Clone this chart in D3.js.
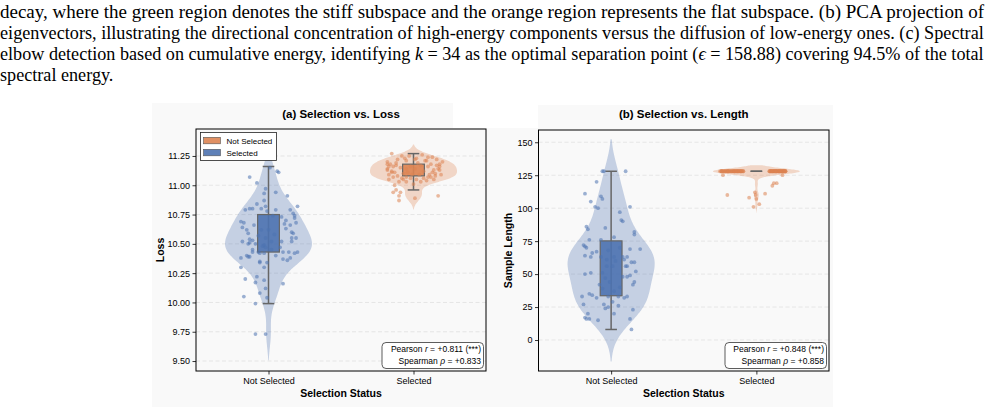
<!DOCTYPE html>
<html>
<head>
<meta charset="utf-8">
<script src="https://cdn.jsdelivr.net/npm/d3@7"></script>
<style>
  body { margin: 0; background: #fff; }
  svg { display: block; }
</style>
</head>
<body>
<svg width="986" height="417"></svg>
<script>
// ---- data ----
var categories = ["Not Selected", "Selected"];

// [x jitter, value]
var lossNotSelected = [
  [-0.13,11.07],[-0.08,11.02],[0.06,11.12],[0.07,11.11],[-0.02,10.97],[-0.03,10.93],[0.05,10.94],
  [-0.03,10.87],[-0.08,10.84],[-0.02,10.82],[0.13,10.91],[-0.05,10.80],[-0.13,10.80],[-0.11,10.80],
  [-0.16,10.79],[0.05,10.79],[-0.01,10.78],[0.15,10.79],[0.09,10.73],[0.03,10.74],[0.17,10.76],
  [0.20,10.82],[0.18,10.74],[0.18,10.72],[-0.19,10.69],[-0.17,10.68],[-0.18,10.64],[-0.15,10.62],
  [0.11,10.67],[0.15,10.66],[0.19,10.68],[0.12,10.63],[0.16,10.60],[-0.14,10.59],[0.00,10.62],
  [0.17,10.59],[0.19,10.55],[0.16,10.55],[0.16,10.52],[-0.13,10.54],[-0.11,10.53],[-0.18,10.52],
  [-0.14,10.50],[-0.13,10.51],[-0.02,10.55],[0.02,10.52],[0.09,10.52],[-0.03,10.49],[-0.03,10.42],
  [-0.07,10.43],[-0.09,10.50],[-0.11,10.45],[-0.11,10.43],[-0.13,10.39],[-0.15,10.40],[-0.14,10.39],
  [0.05,10.40],[0.10,10.43],[0.14,10.43],[0.20,10.43],[0.10,10.37],[0.15,10.38],[0.18,10.42],
  [-0.19,10.38],[-0.19,10.30],[-0.06,10.42],[-0.04,10.48],[-0.02,10.47],[-0.01,10.34],[-0.06,10.35],
  [-0.06,10.34],[-0.03,10.30],[-0.16,10.20],[-0.08,10.22],[-0.09,10.17],[-0.03,10.19],[0.10,10.16],
  [-0.06,10.08],[-0.02,10.12],[-0.17,10.05],[-0.01,10.04],[-0.09,9.99],[-0.09,9.73],[-0.02,9.73],
  [0.01,11.15],[0.04,10.58],[-0.05,10.62],[0.08,10.47],[0.12,10.70],[-0.10,10.66],[0.02,10.45],
  [-0.07,10.57],[0.13,10.36]
];
var lossSelected = [
  [-0.15,11.27],[-0.11,11.22],[-0.08,11.25],[-0.06,11.23],[-0.05,11.21],[-0.03,11.25],[0.02,11.23],
  [0.06,11.26],[0.10,11.24],[0.13,11.24],[0.16,11.22],[-0.18,11.20],[-0.18,11.18],[-0.16,11.18],
  [-0.17,11.16],[-0.14,11.16],[-0.12,11.17],[-0.18,11.13],[-0.15,11.12],[-0.13,11.11],[-0.17,11.09],
  [-0.14,11.07],[-0.17,11.05],[-0.11,11.08],[-0.08,11.06],[-0.10,11.03],[-0.07,11.05],[-0.05,11.03],
  [0.00,11.01],[0.02,11.05],[0.04,11.09],[0.07,11.06],[0.09,11.04],[0.11,11.09],[0.13,11.11],
  [0.14,11.13],[0.15,11.08],[0.17,11.14],[0.18,11.16],[0.16,11.17],[0.19,11.09],[0.18,11.18],
  [0.20,11.20],[0.08,11.21],[0.10,11.16],[0.12,11.07],[0.14,11.05],[0.05,11.03],[-0.05,11.07],
  [-0.13,11.00],[-0.12,10.96],[-0.14,10.94],[-0.10,10.91],[-0.09,10.94],[-0.10,10.87],[0.01,10.89],
  [0.17,10.91],[-0.04,11.11],[-0.02,11.16],[0.01,11.14],[0.05,11.17],[-0.01,11.09],
  [-0.05,11.14],[0.03,11.19],[-0.09,11.15],[0.07,11.12],[0.12,11.18],[-0.15,11.11],[0.15,11.10],
  [-0.02,11.06],[0.09,11.21],[-0.12,11.19],[0.18,11.13],[-0.18,11.14],[0.01,11.22],[-0.07,11.10],
  [0.10,11.07]
];
var lengthNotSelected = [
  [-0.06,128],[-0.05,128],[0.10,128],[-0.18,111],[-0.14,105],[-0.10,120],[-0.07,109],[-0.06,107],
  [-0.11,101],[-0.09,100],[0.06,97],[0.07,91],[0.08,90],[0.13,101],[-0.17,86],[-0.16,84],[-0.04,85],
  [0.16,82],[0.16,80],[0.02,78],[-0.15,76],[-0.07,76],[-0.19,72],[-0.18,71],[-0.17,70],[0.13,69],
  [0.20,69],[-0.13,66],[-0.10,67],[-0.02,68],[0.06,70],[-0.18,64],[-0.14,63],[-0.07,63],[0.02,63],
  [0.08,63],[0.11,63],[-0.03,61],[0.03,60],[0.09,61],[0.14,59],[0.16,59],[0.11,56],[0.10,56],
  [0.01,56],[-0.18,50],[-0.14,51],[-0.06,51],[0.17,52],[0.13,49],[0.11,48],[-0.04,47],[0.08,48],
  [-0.01,44],[0.16,44],[0.15,42],[-0.08,42],[-0.15,35],[-0.13,34],[-0.10,32],[-0.02,33],[0.05,33],
  [0.09,32],[0.11,33],[-0.20,33],[-0.19,27],[-0.05,27],[-0.04,24],[-0.02,25],[0.05,26],[0.15,23],
  [0.02,20],[-0.16,20],[-0.18,17],[-0.17,16],[-0.15,16],[-0.09,15],[0.13,16],[0.14,8],[0.01,29],
  [0.02,37],[0.06,40],[-0.06,39],[-0.03,56]
];
var lengthSelected = [
  [-0.23,125],[0.18,125],[0.12,119],[0.14,119],[0.11,117],[-0.20,110],[-0.05,108],[-0.01,112],
  [-0.005,110],[0.00,107],[0.06,111],[0.02,103],[-0.02,101]
];
// jitter of the selected samples sitting at the 128-token cap
var capJitter = [
  -0.25,-0.24,-0.24,-0.23,-0.22,-0.22,-0.21,-0.20,-0.20,-0.19,-0.19,-0.18,-0.17,-0.17,-0.16,
  -0.16,-0.15,-0.15,-0.14,-0.14,-0.13,-0.13,-0.12,-0.12,-0.11,-0.11,-0.10,-0.10,-0.09,-0.09,
  -0.23,-0.21,-0.18,-0.16,-0.13,-0.11,-0.20,-0.15,-0.12,-0.24,-0.19,-0.14,-0.10,
  0.09,0.09,0.10,0.10,0.11,0.11,0.12,0.12,0.13,0.13,0.14,0.14,0.15,0.15,0.16,0.16,0.17,0.17,
  0.18,0.18,0.19,0.19,0.20,0.20,0.10,0.12,0.14,0.16,0.18,0.20,0.11,0.13,0.15,0.17,0.19,
  0.095,0.125,0.155,0.185,0.105,0.135,0.165,0.195
];
var capLength = 128;

// box stats [lower whisker, q1, q3, upper whisker]
var lossBoxes = [[9.99, 10.43, 10.75, 11.16], [10.96, 11.08, 11.18, 11.27]];
var lengthBoxes = [[8, 33.6, 75.2, 128], [128, 128, 128, 128]];

var lossTicks = [9.50, 9.75, 10.00, 10.25, 10.50, 10.75, 11.00, 11.25];
var lengthTicks = [0, 25, 50, 75, 100, 125, 150];

var pearsonR = [0.811, 0.848];
var spearmanRho = [0.833, 0.858];
var legendLabels = ["Not Selected", "Selected"];

var captionLines = [
  "decay, where the green region denotes the stiff subspace and the orange region represents the flat subspace. (b) PCA projection of",
  "eigenvectors, illustrating the directional concentration of high-energy components versus the diffusion of low-energy ones. (c) Spectral",
  ["elbow detection based on cumulative energy, identifying ", "k", " = 34 as the optimal separation point (", "\u03f5", " = 158.88) covering 94.5% of the total"],
  "spectral energy."
];

// ---- drawing ----
var svg = d3.select("svg");
var blue = "#4c72b0", orange = "#dd8452";
var sans = "'Liberation Sans', Arial, sans-serif";

// caption text: each full line squeezed horizontally to the text width,
// the last line keeps the first line's squeeze
var squeeze = 1;
captionLines.forEach(function(line, i) {
  var g = svg.append("g");
  var t = g.append("text")
    .attr("x", 0)
    .attr("y", 0)
    .style("font-family", "'Liberation Serif', 'Times New Roman', serif")
    .style("font-size", "19px")
    .attr("fill", "#000");
  if (typeof line == "string") {
    t.text(line);
  } else {
    line.forEach(function(s, j) {
      t.append("tspan").text(s).style("font-style", j % 2 ? "italic" : "normal");
    });
  }
  var len = t.node().getComputedTextLength();
  if (i < captionLines.length - 1) squeeze = 984 / len;
  g.attr("transform", "translate(0," + (18 + i * 21) + ") scale(" + squeeze + ",1)");
});

// figure background
svg.append("path")
  .attr("d", "M152,103H453V128H538V105H833V407H152Z")
  .attr("fill", "#f9f9f9");

function kde(values, bw, grid) {
  return grid.map(function(v) {
    return [v, d3.mean(values, function(d) {
      var u = (v - d) / bw;
      return Math.exp(-0.5 * u * u);
    }) / bw];
  });
}

function drawPanel(p) {
  var g = svg.append("g");
  var x = d3.scaleLinear().domain([-0.5, 1.5]).range([p.left, p.right]);
  var y = d3.scaleLinear().domain(p.yDomain).range([p.bottom, p.top]);

  g.append("rect")
    .attr("x", p.left).attr("y", p.top)
    .attr("width", p.right - p.left).attr("height", p.bottom - p.top)
    .attr("fill", "#f9f9f9");

  g.selectAll(".grid").data(p.ticks).join("line")
    .attr("x1", p.left).attr("x2", p.right)
    .attr("y1", d => y(d)).attr("y2", d => y(d))
    .attr("stroke", "#d8d8d8").attr("stroke-width", 0.6)
    .attr("stroke-dasharray", "4,2.5");

  p.groups.forEach(function(grp, i) {
    var vals = grp.points.map(d => d[1]);
    var bw = d3.deviation(vals) * Math.pow(vals.length, -0.2);
    var lo = d3.min(vals) - 2 * bw, hi = d3.max(vals) + 2 * bw;
    var grid = d3.range(0, 121).map(k => lo + (hi - lo) * k / 120);
    var dens = kde(vals, bw, grid);
    var maxD = d3.max(dens, d => d[1]);
    var area = d3.area()
      .y(d => y(d[0]))
      .x0(d => x(i - 0.3 * d[1] / maxD))
      .x1(d => x(i + 0.3 * d[1] / maxD))
      .curve(d3.curveBasis);
    g.append("path").datum(dens)
      .attr("d", area)
      .attr("fill", grp.color).attr("fill-opacity", 0.3);

    // box + whiskers
    var b = grp.box;
    g.append("line")
      .attr("x1", x(i)).attr("x2", x(i))
      .attr("y1", y(b[0])).attr("y2", y(b[3]))
      .attr("stroke", "#666").attr("stroke-width", 1.5);
    [b[0], b[3]].forEach(function(v) {
      g.append("line")
        .attr("x1", x(i - 0.04)).attr("x2", x(i + 0.04))
        .attr("y1", y(v)).attr("y2", y(v))
        .attr("stroke", "#666").attr("stroke-width", 1.5);
    });
    g.append("rect")
      .attr("x", x(i - 0.075)).attr("width", x(0.15) - x(0))
      .attr("y", y(b[2])).attr("height", y(b[1]) - y(b[2]))
      .attr("fill", grp.color).attr("fill-opacity", 0.9)
      .attr("stroke", "#666").attr("stroke-width", 1.2);

    g.append("g").selectAll("circle").data(grp.points).join("circle")
      .attr("cx", d => x(i + d[0]))
      .attr("cy", d => y(d[1]))
      .attr("r", 1.9)
      .attr("fill", grp.color).attr("fill-opacity", 0.55);
  });

  // spines
  g.append("rect")
    .attr("x", p.left).attr("y", p.top)
    .attr("width", p.right - p.left).attr("height", p.bottom - p.top)
    .attr("fill", "none").attr("stroke", "#000").attr("stroke-width", 1);

  var yAxis = g.append("g")
    .attr("transform", "translate(" + p.left + ",0)")
    .call(d3.axisLeft(y).tickValues(p.ticks).tickFormat(p.fmt).tickSize(3.5).tickPadding(2.5));
  var xAxis = g.append("g")
    .attr("transform", "translate(0," + p.bottom + ")")
    .call(d3.axisBottom(x).tickValues([0, 1]).tickFormat(i => categories[i]).tickSize(3.5).tickPadding(3));
  [yAxis, xAxis].forEach(function(a) {
    a.select(".domain").remove();
    a.selectAll("text").style("font-family", sans).style("font-size", "9px").attr("fill", "#000");
    a.selectAll("line").attr("stroke", "#000").attr("stroke-width", 0.8);
  });

  var cx = (p.left + p.right) / 2;
  g.append("text")
    .attr("x", cx).attr("y", 118)
    .attr("text-anchor", "middle")
    .style("font-family", sans).style("font-size", "11.5px").style("font-weight", "bold")
    .text(p.title);
  g.append("text")
    .attr("x", cx).attr("y", 397)
    .attr("text-anchor", "middle")
    .style("font-family", sans).style("font-size", "10.5px").style("font-weight", "bold")
    .text("Selection Status");
  g.append("text")
    .attr("transform", "translate(" + p.ylabelX + "," + (p.top + p.bottom) / 2 + ") rotate(-90)")
    .attr("text-anchor", "middle")
    .attr("dy", "0.35em")
    .style("font-family", sans).style("font-size", "10.5px").style("font-weight", "bold")
    .text(p.ylabel);

  // stats box
  var fmt = d3.format("+.3f");
  var sb = g.append("g");
  sb.append("rect")
    .attr("x", p.right - 104).attr("y", p.bottom - 28.5)
    .attr("width", 101.5).attr("height", 26)
    .attr("rx", 4)
    .attr("fill", "#fff").attr("stroke", "#333").attr("stroke-width", 0.8);
  var l1 = sb.append("text")
    .attr("x", p.right - 5).attr("y", p.bottom - 19)
    .attr("text-anchor", "end")
    .style("font-family", sans).style("font-size", "8.5px");
  l1.append("tspan").text("Pearson ");
  l1.append("tspan").style("font-style", "italic").text("r");
  l1.append("tspan").text(" = " + fmt(p.r) + " (***)");
  var l2 = sb.append("text")
    .attr("x", p.right - 5).attr("y", p.bottom - 7.5)
    .attr("text-anchor", "end")
    .style("font-family", sans).style("font-size", "8.5px");
  l2.append("tspan").text("Spearman ");
  l2.append("tspan").style("font-style", "italic").text("\u03c1");
  l2.append("tspan").text(" = " + fmt(p.rho));

  return g;
}

var panelA = drawPanel({
  left: 196, right: 486, top: 129, bottom: 371,
  yDomain: [9.415, 11.48], ticks: lossTicks, fmt: d3.format(".2f"),
  title: "(a) Selection vs. Loss", ylabel: "Loss", ylabelX: 160,
  r: pearsonR[0], rho: spearmanRho[0],
  groups: [
    {points: lossNotSelected, box: lossBoxes[0], color: blue},
    {points: lossSelected, box: lossBoxes[1], color: orange}
  ]
});

drawPanel({
  left: 538.5, right: 829, top: 130, bottom: 371,
  yDomain: [-23.5, 159.3], ticks: lengthTicks, fmt: d3.format("d"),
  title: "(b) Selection vs. Length", ylabel: "Sample Length", ylabelX: 508,
  r: pearsonR[1], rho: spearmanRho[1],
  groups: [
    {points: lengthNotSelected, box: lengthBoxes[0], color: blue},
    {points: lengthSelected.concat(capJitter.map(j => [j, capLength])), box: lengthBoxes[1], color: orange}
  ]
});

// legend (panel a)
var leg = panelA.append("g");
leg.append("rect")
  .attr("x", 200.5).attr("y", 132.5).attr("width", 76).attr("height", 28)
  .attr("fill", "#fff").attr("stroke", "#222").attr("stroke-width", 0.8);
var legColors = [orange, blue];
legendLabels.forEach(function(lab, i) {
  leg.append("rect")
    .attr("x", 203.5).attr("y", 137.3 + i * 12).attr("width", 17).attr("height", 6.5)
    .attr("fill", legColors[i]).attr("fill-opacity", 0.9)
    .attr("stroke", "#555").attr("stroke-width", 0.6);
  leg.append("text")
    .attr("x", 226.5).attr("y", 143.5 + i * 12)
    .style("font-family", sans).style("font-size", "8px")
    .text(lab);
});
</script>
</body>
</html>
